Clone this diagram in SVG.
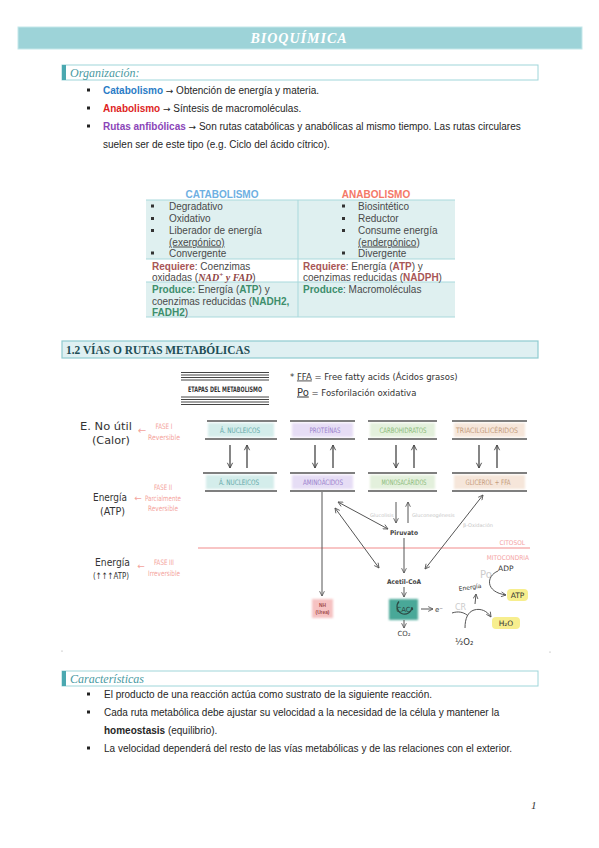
<svg xmlns="http://www.w3.org/2000/svg" width="599" height="848" viewBox="0 0 599 848">
<style>
.body{font-family:"Liberation Sans",Arial,sans-serif;font-size:10px;fill:#262626}
.arr{font-family:"DejaVu Sans",sans-serif;font-size:9px}
.tb{font-family:"Liberation Sans",Arial,sans-serif;font-size:10px;fill:#4a4a4a}
.sec{font-family:"Liberation Serif",serif;font-style:italic;font-size:12px;fill:#4a9aa2}
.cond{font-family:"Liberation Sans Narrow","DejaVu Sans Condensed","Liberation Sans",sans-serif;font-size:7.5px;text-anchor:middle}
.hand{font-family:"DejaVu Sans","Liberation Sans",sans-serif;fill:#333}
.fase{font-family:"Liberation Sans Narrow","DejaVu Sans Condensed","Liberation Sans",sans-serif;font-size:7.5px;fill:#f4a39c;text-anchor:middle}
.bl{stroke:#555;stroke-width:1.6}
.con{fill:none;stroke:#555;stroke-width:1}
.ud{fill:none;stroke:#444;stroke-width:1.3}
.lbl{font-family:"Liberation Sans Narrow","DejaVu Sans Condensed","Liberation Sans",sans-serif;font-weight:bold;font-size:6.5px;fill:#444;text-anchor:middle}
.faint{font-family:"DejaVu Sans","Liberation Sans",sans-serif;font-size:5px;fill:#c6c6c6}
</style>
<defs>
<marker id="ah" viewBox="0 0 10 10" refX="9" refY="5" markerWidth="6" markerHeight="6" orient="auto-start-reverse"><path d="M1,1 L9,5 L1,9" fill="none" stroke="#555" stroke-width="1.4"/></marker>
<marker id="ah2" viewBox="0 0 10 10" refX="9" refY="5" markerWidth="5" markerHeight="6" orient="auto-start-reverse"><path d="M1,1 L9,5 L1,9" fill="none" stroke="#444" stroke-width="1.4"/></marker>
<filter id="soft" x="-20%" y="-40%" width="140%" height="180%"><feGaussianBlur stdDeviation="1.2"/></filter>
</defs>

<g id="header">
<rect x="18" y="27" width="564" height="22" fill="#9dd3d8" stroke="#c4e7ea" stroke-width="1"/>
<text x="299" y="43" text-anchor="middle" font-family="Liberation Serif,serif" font-style="italic" font-weight="bold" font-size="14" letter-spacing="1" fill="#ffffff">BIOQUÍMICA</text>
</g>

<g id="organizacion">
<rect x="62" y="65" width="476" height="15" fill="#ffffff" stroke="#9fd6da" stroke-width="1"/>
<rect x="62" y="65" width="4" height="15" fill="#4aa8b0"/>
<text class="sec" x="70" y="76.5">Organización:</text>
<rect x="87" y="88.5" width="3" height="3" fill="#222"/>
<text class="body" x="103" y="93.5"><tspan font-weight="bold" fill="#2a7cc6">Catabolismo</tspan> <tspan class="arr">→</tspan> Obtención de energía y materia.</text>
<rect x="87" y="106.5" width="3" height="3" fill="#222"/>
<text class="body" x="103" y="111.5"><tspan font-weight="bold" fill="#de1f1f">Anabolismo</tspan> <tspan class="arr">→</tspan> Síntesis de macromoléculas.</text>
<rect x="87" y="124.5" width="3" height="3" fill="#222"/>
<text class="body" x="103" y="129.5"><tspan font-weight="bold" fill="#8b45b8">Rutas anfibólicas</tspan> <tspan class="arr">→</tspan> Son rutas catabólicas y anabólicas al mismo tiempo. Las rutas circulares</text>
<text class="body" x="103" y="147.5">suelen ser de este tipo (e.g. Ciclo del ácido cítrico).</text>
</g>

<g id="tabla">
<rect x="146" y="200" width="309" height="59" fill="#dff0f0"/>
<rect x="146" y="282" width="309" height="35" fill="#dff0f0"/>
<g stroke="#a9d9dc" stroke-width="1">
<line x1="146" y1="200" x2="455" y2="200"/>
<line x1="146" y1="259" x2="455" y2="259"/>
<line x1="146" y1="282" x2="455" y2="282"/>
<line x1="146" y1="317" x2="455" y2="317"/>
<line x1="298" y1="200" x2="298" y2="317"/>
</g>
<text x="222" y="197.5" text-anchor="middle" font-family="Liberation Sans,Arial,sans-serif" font-weight="bold" font-size="10" fill="#6eb0e2">CATABOLISMO</text>
<text x="376" y="197.5" text-anchor="middle" font-family="Liberation Sans,Arial,sans-serif" font-weight="bold" font-size="10" fill="#f47868">ANABOLISMO</text>
<g fill="#333">
<rect x="151" y="204.5" width="3" height="3"/><rect x="151" y="217" width="3" height="3"/><rect x="151" y="229" width="3" height="3"/><rect x="151" y="251.5" width="3" height="3"/>
<rect x="342" y="204.5" width="3" height="3"/><rect x="342" y="217" width="3" height="3"/><rect x="342" y="229" width="3" height="3"/><rect x="342" y="251.5" width="3" height="3"/>
</g>
<text class="tb" x="169" y="209.5">Degradativo</text>
<text class="tb" x="169" y="222">Oxidativo</text>
<text class="tb" x="169" y="234">Liberador de energía</text>
<text class="tb" x="169" y="245.5" text-decoration="underline">(exergónico)</text>
<text class="tb" x="169" y="256.5">Convergente</text>
<text class="tb" x="358" y="209.5">Biosintético</text>
<text class="tb" x="358" y="222">Reductor</text>
<text class="tb" x="358" y="234">Consume energía</text>
<text class="tb" x="358" y="245.5"><tspan text-decoration="underline">(endergónico</tspan>)</text>
<text class="tb" x="358" y="256.5">Divergente</text>
<text class="tb" x="152" y="269.5" fill="#c47a72"><tspan font-weight="bold" fill="#a85656">Requiere</tspan>: Coenzimas</text>
<text class="tb" x="152" y="281" fill="#c47a72">oxidadas (<tspan font-family="Liberation Serif,serif" font-style="italic" font-weight="bold" fill="#8e4444">NAD<tspan font-size="7" dy="-4">+</tspan><tspan dy="4"> y FAD</tspan></tspan>)</text>
<text class="tb" x="303" y="269.5" fill="#c47a72"><tspan font-weight="bold" fill="#a85656">Requiere</tspan>: Energía (<tspan font-weight="bold" fill="#a85656">ATP</tspan>) y</text>
<text class="tb" x="303" y="281" fill="#c47a72">coenzimas reducidas (<tspan font-weight="bold" fill="#a85656">NADPH</tspan>)</text>
<text class="tb" x="152" y="292.5" fill="#5eae8c"><tspan font-weight="bold" fill="#3d8e6c">Produce:</tspan> Energía (<tspan font-weight="bold" fill="#3d8e6c">ATP</tspan>) y</text>
<text class="tb" x="152" y="304.5" fill="#5eae8c">coenzimas reducidas (<tspan font-weight="bold" fill="#3d8e6c">NADH2,</tspan></text>
<text class="tb" x="152" y="316" fill="#5eae8c"><tspan font-weight="bold" fill="#3d8e6c">FADH2</tspan>)</text>
<text class="tb" x="303" y="292.5" fill="#5eae8c"><tspan font-weight="bold" fill="#3d8e6c">Produce</tspan>: Macromoléculas</text>
</g>

<g id="titulo-1-2">
<rect x="62" y="341" width="476" height="17" fill="#dff0f2" stroke="#8fcbd0" stroke-width="1.2"/>
<text x="66" y="353.5" font-family="Liberation Serif,serif" font-weight="bold" font-size="11.5" fill="#1d4d55" textLength="184" lengthAdjust="spacingAndGlyphs">1.2 VÍAS O RUTAS METABÓLICAS</text>
</g>

<g id="etapas">
<g stroke="#444" stroke-width="1">
<line x1="181" y1="372.5" x2="269" y2="372.5"/><line x1="181" y1="375" x2="269" y2="375"/><line x1="181" y1="377.5" x2="269" y2="377.5"/><line x1="181" y1="380" x2="269" y2="380"/>
<line x1="181" y1="397" x2="269" y2="397"/><line x1="181" y1="399.5" x2="269" y2="399.5"/><line x1="181" y1="402" x2="269" y2="402"/><line x1="181" y1="404.5" x2="269" y2="404.5"/>
</g>
<text class="cond" x="225" y="392" fill="#333" font-size="9" font-weight="bold" textLength="74" lengthAdjust="spacingAndGlyphs">ETAPAS DEL METABOLISMO</text>
</g>

<g id="nota">
<text class="hand" x="290" y="379.5" font-size="8.5">* <tspan text-decoration="underline">FFA</tspan> = Free fatty acids (Ácidos grasos)</text>
<text class="hand" x="297" y="395.5" font-size="8.5"><tspan text-decoration="underline" font-size="10">Po</tspan> = Fosforilación oxidativa</text>
</g>

<g id="fases">
<text class="hand" x="80" y="430" font-size="10.5" textLength="52" lengthAdjust="spacingAndGlyphs">E. No útil</text>
<text class="hand" x="92" y="444" font-size="10.5" textLength="38" lengthAdjust="spacingAndGlyphs">(Calor)</text>
<text x="142" y="434" font-family="DejaVu Sans,sans-serif" font-size="10" fill="#f4a39c" text-anchor="middle">←</text>
<text class="fase" x="164" y="429" textLength="17" lengthAdjust="spacingAndGlyphs">FASE I</text>
<text class="fase" x="164" y="440" textLength="32" lengthAdjust="spacingAndGlyphs">Reversible</text>
<text class="hand" x="93" y="501" font-size="10" textLength="34" lengthAdjust="spacingAndGlyphs">Energía</text>
<text class="hand" x="100" y="515" font-size="10" textLength="25" lengthAdjust="spacingAndGlyphs">(ATP)</text>
<text x="138" y="500.5" font-family="DejaVu Sans,sans-serif" font-size="9" fill="#f4a39c" text-anchor="middle">←</text>
<text class="fase" x="163" y="490" textLength="18" lengthAdjust="spacingAndGlyphs">FASE II</text>
<text class="fase" x="163" y="500.5" textLength="36" lengthAdjust="spacingAndGlyphs">Parcialmente</text>
<text class="fase" x="163" y="511" textLength="30" lengthAdjust="spacingAndGlyphs">Reversible</text>
<text class="hand" x="95" y="566" font-size="10" textLength="35" lengthAdjust="spacingAndGlyphs">Energía</text>
<text class="hand" x="93" y="579" font-size="9" textLength="36" lengthAdjust="spacingAndGlyphs">(↑↑↑ATP)</text>
<text x="141" y="568.5" font-family="DejaVu Sans,sans-serif" font-size="9" fill="#f4a39c" text-anchor="middle">←</text>
<text class="fase" x="164" y="565" textLength="20" lengthAdjust="spacingAndGlyphs">FASE III</text>
<text class="fase" x="164" y="576" textLength="32" lengthAdjust="spacingAndGlyphs">Irreversible</text>
</g>

<g id="nucleicos">
<rect x="208" y="423" width="66" height="14" fill="#d4edeb" filter="url(#soft)"/>
<line class="bl" x1="207" y1="421" x2="277" y2="421"/><line class="bl" x1="205" y1="439" x2="277" y2="439"/>
<text class="cond" x="240" y="433" fill="#62a8a8" textLength="40" lengthAdjust="spacingAndGlyphs">Á. NUCLEICOS</text>
<rect x="206" y="475" width="68" height="14" fill="#d4edeb" filter="url(#soft)"/>
<line class="bl" x1="203" y1="473" x2="277" y2="473"/><line class="bl" x1="205" y1="491" x2="277" y2="491"/>
<text class="cond" x="239" y="485" fill="#62a8a8" textLength="40" lengthAdjust="spacingAndGlyphs">Á. NUCLEICOS</text>
</g>
<g id="proteinas">
<rect x="292" y="423" width="61" height="14" fill="#e6ddf5" filter="url(#soft)"/>
<line class="bl" x1="290" y1="421" x2="355" y2="421"/><line class="bl" x1="290" y1="439" x2="355" y2="439"/>
<text class="cond" x="325" y="433" fill="#9a82cc" textLength="31" lengthAdjust="spacingAndGlyphs">PROTEÍNAS</text>
<rect x="292" y="475" width="61" height="14" fill="#e6ddf5" filter="url(#soft)"/>
<line class="bl" x1="290" y1="473" x2="355" y2="473"/><line class="bl" x1="290" y1="491" x2="355" y2="491"/>
<text class="cond" x="323" y="485" fill="#9a82cc" textLength="40" lengthAdjust="spacingAndGlyphs">AMINOÁCIDOS</text>
</g>
<g id="carbohidratos">
<rect x="370" y="423" width="65" height="14" fill="#e3f0dc" filter="url(#soft)"/>
<line class="bl" x1="368" y1="421" x2="437" y2="421"/><line class="bl" x1="368" y1="439" x2="437" y2="439"/>
<text class="cond" x="403" y="433" fill="#8aba78" textLength="47" lengthAdjust="spacingAndGlyphs">CARBOHIDRATOS</text>
<rect x="370" y="475" width="65" height="14" fill="#e3f0dc" filter="url(#soft)"/>
<line class="bl" x1="368" y1="473" x2="437" y2="473"/><line class="bl" x1="368" y1="491" x2="437" y2="491"/>
<text class="cond" x="404" y="485" fill="#8aba78" textLength="45" lengthAdjust="spacingAndGlyphs">MONOSACÁRIDOS</text>
</g>
<g id="triacilgliceridos">
<rect x="454" y="423" width="71" height="14" fill="#f6e6da" filter="url(#soft)"/>
<line class="bl" x1="452" y1="421" x2="527" y2="421"/><line class="bl" x1="452" y1="439" x2="527" y2="439"/>
<text class="cond" x="487" y="433" fill="#c49c7c" textLength="62" lengthAdjust="spacingAndGlyphs">TRIACILGLICÉRIDOS</text>
<rect x="454" y="475" width="71" height="14" fill="#f6e6da" filter="url(#soft)"/>
<line class="bl" x1="452" y1="473" x2="527" y2="473"/><line class="bl" x1="452" y1="491" x2="527" y2="491"/>
<text class="cond" x="488" y="485" fill="#c49c7c" textLength="45" lengthAdjust="spacingAndGlyphs">GLICEROL + FFA</text>
</g>

<g id="citosol-mitocondria">
<line x1="198" y1="548" x2="530" y2="548" stroke="#f28c8c" stroke-width="1.2"/>
<text x="525" y="545" text-anchor="end" font-family="Liberation Sans Narrow,DejaVu Sans Condensed,Liberation Sans,sans-serif" font-size="6.5" fill="#f4a4a4">CITOSOL</text>
<text x="529" y="560" text-anchor="end" font-family="Liberation Sans Narrow,DejaVu Sans Condensed,Liberation Sans,sans-serif" font-size="6.5" fill="#f4a4a4">MITOCONDRIA</text>
</g>

<g id="piruvato">
<text class="lbl" x="404" y="534.5">Piruvato</text>
<text class="faint" x="370" y="517">Glucolisis</text>
<text class="faint" x="412" y="517">Gluconeogénesis</text>
<text class="faint" x="463" y="527">β-Oxidación</text>
</g>
<g id="acetil-coa"><text class="lbl" x="404" y="583.5">Acetil-CoA</text></g>
<g id="urea">
<rect x="312" y="599" width="21" height="19" fill="#f6c2c2" filter="url(#soft)"/>
<text x="322.5" y="606.5" text-anchor="middle" font-family="Liberation Sans,sans-serif" font-weight="bold" font-size="4.8" fill="#a04a4a">NH</text>
<text x="322.5" y="614" text-anchor="middle" font-family="Liberation Sans,sans-serif" font-weight="bold" font-size="4.8" fill="#a04a4a">(Urea)</text>
</g>
<g id="cac">
<rect x="389" y="599" width="29" height="21" fill="#4aa898" filter="url(#soft)"/>
<path d="M399,601.5 A7.5,7.5 0 1 0 412,607" fill="none" stroke="#2e4a45" stroke-width="1.2"/>
<circle cx="412" cy="609" r="1.2" fill="#2e4a45"/>
<text x="403.5" y="612" text-anchor="middle" font-family="DejaVu Sans,sans-serif" font-size="7" fill="#2e4a45">CAC</text>
<text x="435" y="612" font-family="DejaVu Sans,sans-serif" font-size="7" fill="#444">e⁻</text>
<text x="404" y="636" text-anchor="middle" font-family="DejaVu Sans,sans-serif" font-size="7" fill="#444">CO₂</text>
</g>
<g id="fosforilacion">
<text x="480" y="578" font-family="DejaVu Sans,sans-serif" font-size="10" fill="#cccccc">Po</text>
<text x="498" y="571" font-family="DejaVu Sans,sans-serif" font-size="7.5" fill="#333">ADP</text>
<rect x="507" y="589" width="21" height="12" rx="4" fill="#f7ee8e"/>
<text x="517.5" y="598" text-anchor="middle" font-family="DejaVu Sans,sans-serif" font-size="7.5" fill="#333">ATP</text>
<text x="459" y="591" font-family="DejaVu Sans,sans-serif" font-size="6" fill="#333" transform="rotate(-8 459 591)">Energía</text>
<text x="455" y="610" font-family="DejaVu Sans,sans-serif" font-size="8" fill="#cccccc">CR</text>
<rect x="492" y="617" width="28" height="12" rx="4" fill="#f7ee8e"/>
<text x="506" y="626" text-anchor="middle" font-family="DejaVu Sans,sans-serif" font-size="7.5" fill="#333">H₂O</text>
<text x="455" y="645" font-family="DejaVu Sans,sans-serif" font-size="8.5" fill="#333">½O₂</text>
</g>

<g id="connectors">
<g marker-end="url(#ah2)">
<line class="ud" x1="230" y1="445" x2="230" y2="468"/><line class="ud" x1="247" y1="468" x2="247" y2="445"/>
<line class="ud" x1="315" y1="445" x2="315" y2="468"/><line class="ud" x1="333" y1="468" x2="333" y2="445"/>
<line class="ud" x1="396" y1="445" x2="396" y2="468"/><line class="ud" x1="414" y1="468" x2="414" y2="445"/>
<line class="ud" x1="479" y1="445" x2="479" y2="468"/><line class="ud" x1="497" y1="468" x2="497" y2="445"/>
</g>
<line class="con" x1="322" y1="492" x2="322" y2="596" marker-end="url(#ah)"/>
<line class="con" x1="338" y1="502" x2="388" y2="529" marker-start="url(#ah)" marker-end="url(#ah)"/>
<line class="con" x1="335" y1="508" x2="379" y2="568" marker-start="url(#ah)" marker-end="url(#ah)"/>
<line class="con" x1="396" y1="502" x2="396" y2="523" marker-end="url(#ah)"/>
<line class="con" x1="408" y1="523" x2="408" y2="502" marker-end="url(#ah)"/>
<line class="con" x1="404" y1="538" x2="404" y2="573" marker-end="url(#ah)"/>
<line class="con" x1="483" y1="495" x2="425" y2="569" marker-start="url(#ah)" marker-end="url(#ah)"/>
<line class="con" x1="404" y1="587" x2="404" y2="597" marker-end="url(#ah)"/>
<line class="con" x1="421" y1="609" x2="433" y2="609" marker-end="url(#ah)"/>
<line class="con" x1="404" y1="620" x2="404" y2="628" marker-end="url(#ah)"/>
<path class="con" d="M498,571 C486,576 485,592 506,595" marker-end="url(#ah)"/>
<path class="con" d="M465,628 C465,618 468,612 474,610 C481,608 487,611 491,617" marker-end="url(#ah)"/>
<path class="con" d="M452,613 C458,611 463,612 467,615"/>
<line class="con" x1="475" y1="604" x2="476" y2="594" marker-end="url(#ah)"/>
</g>

<g id="marcas">
<circle cx="62" cy="651" r="0.6" fill="#999"/>
<circle cx="550" cy="652" r="0.6" fill="#999"/>
</g>

<g id="caracteristicas">
<rect x="62" y="671" width="476" height="15" fill="#ffffff" stroke="#9fd6da" stroke-width="1"/>
<rect x="62" y="671" width="4" height="15" fill="#4aa8b0"/>
<text class="sec" x="70" y="682.5" font-size="11">Características</text>
<rect x="87" y="692.5" width="3" height="3" fill="#222"/>
<text class="body" x="104" y="697.5">El producto de una reacción actúa como sustrato de la siguiente reacción.</text>
<rect x="87" y="710.5" width="3" height="3" fill="#222"/>
<text class="body" x="104" y="715.5">Cada ruta metabólica debe ajustar su velocidad a la necesidad de la célula y mantener la</text>
<text class="body" x="104" y="733.5"><tspan font-weight="bold">homeostasis</tspan> (equilibrio).</text>
<rect x="87" y="746.5" width="3" height="3" fill="#222"/>
<text class="body" x="104" y="751.5">La velocidad dependerá del resto de las vías metabólicas y de las relaciones con el exterior.</text>
</g>

<g id="pagina">
<text x="531" y="809" font-family="Liberation Serif,serif" font-style="italic" font-size="11" fill="#333">1</text>
</g>
</svg>
